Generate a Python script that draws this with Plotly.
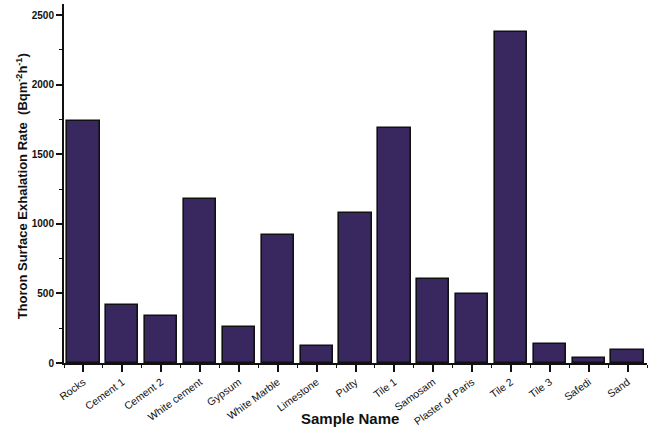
import plotly.graph_objects as go

samples = ["Rocks", "Cement 1", "Cement 2", "White cement", "Gypsum", "White Marble",
           "Limestone", "Putty", "Tile 1", "Samosam", "Plaster of Paris", "Tile 2",
           "Tile 3", "Safedi", "Sand"]
exhalation = [1735, 415, 338, 1180, 258, 923, 122, 1076, 1690, 605, 495, 2378, 134, 36, 91]

x_pos = list(range(len(samples)))

fig = go.Figure()
fig.add_trace(go.Bar(
    x=x_pos, y=exhalation, width=0.83,
    marker=dict(color="#38285f", line=dict(color="#111111", width=1.6)),
))

font_family = "Arial, Liberation Sans, sans-serif"

fig.update_layout(
    width=654, height=428,
    margin=dict(l=64, r=7, t=4, b=65, autoexpand=False),
    plot_bgcolor="white", paper_bgcolor="white",
    showlegend=False,
    bargap=0,
    font=dict(family=font_family, color="#111111"),
)

fig.update_xaxes(
    range=[-0.5, 14.5],
    tickmode="array", tickvals=x_pos, ticktext=samples,
    tickangle=-36, tickfont=dict(size=10.5, family=font_family, color="#111111"),
    ticks="outside", ticklen=7, tickwidth=1.6, tickcolor="#111111",
    showline=True, linecolor="#111111", linewidth=2,
    showgrid=False, zeroline=False, automargin=False,
    minor=dict(tickmode="linear", tick0=0.5, dtick=1, ticks="outside", ticklen=3,
               tickwidth=1.4, tickcolor="#111111", showgrid=False),
)

fig.update_yaxes(
    range=[0, 2579],
    tickmode="linear", tick0=0, dtick=500,
    tickfont=dict(size=10, family=font_family, weight="bold", color="#111111"),
    ticks="outside", ticklen=6, tickwidth=1.6, tickcolor="#111111",
    showline=True, linecolor="#111111", linewidth=2,
    showgrid=False, zeroline=False, automargin=False,
    minor=dict(tickmode="linear", tick0=250, dtick=500, ticks="outside", ticklen=3,
               tickwidth=1.4, tickcolor="#111111", showgrid=False),
)

fig.add_annotation(
    text="<b>Thoron Surface Exhalation Rate  (Bqm<sup>-2</sup>h<sup>-1</sup>)</b>",
    xref="paper", yref="paper", x=0, y=0.492, xshift=-42, textangle=-90,
    xanchor="center", yanchor="middle", showarrow=False,
    font=dict(size=13, family=font_family, color="#111111"),
)

fig.add_annotation(
    text="<b>Sample Name</b>", xref="paper", yref="paper", x=0.49, y=0,
    yanchor="top", yshift=-45, showarrow=False,
    font=dict(size=15, family=font_family, color="#111111"),
)

fig.write_html("out.html")
